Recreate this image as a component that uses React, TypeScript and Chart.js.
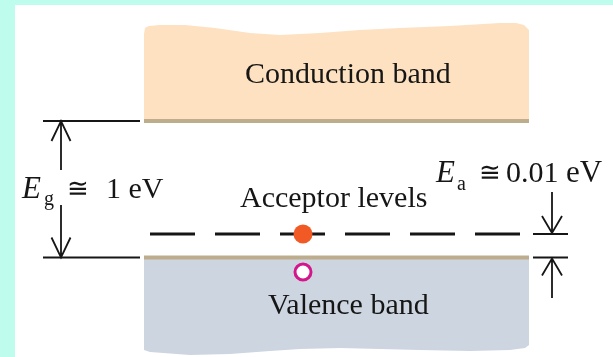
import React, { useEffect, useRef } from "react";
import { Chart, registerables } from "chart.js";

Chart.register(...registerables);

// ---- diagram data (x across the diagram, y = energy level position, axis reversed) ----
const bandEdgeX = [144, 529];
const conductionBandBottom = 121;
const valenceBandTop = 257.5;
const conductionTopX = [144, 145, 149, 160, 185, 215, 250, 280, 320, 360, 400, 450, 500, 516, 524, 529];
const conductionTopY = [34, 28, 26, 25, 25, 28, 33, 35, 33, 30, 28, 26, 23, 23, 25, 30];
const valenceBottomX = [144, 150, 190, 230, 270, 300, 340, 380, 420, 470, 510, 525, 529];
const valenceBottomY = [350, 352, 355, 354, 351, 349, 348, 349, 350, 351, 350, 348, 345];
const acceptorLevel = 234;
const acceptorSpan = [150, 520];
const electronX = [303];
const electronY = [234];
const holeX = [303];
const holeY = [272];
const gapRefLeft = [43, 140];
const gapRefRight = [533, 568];
const egArrowX = 61;
const egArrowFrom = [170, 205];
const egArrowTo = [121, 257.5];
const eaArrowX = 552;
const eaArrowFrom = [192, 298];
const eaArrowTo = [233, 258.5];

const bandLabels = ["Conduction band", "Acceptor levels", "Valence band"];
const egLabel = ["E", "g", "\u2245", "1 eV"];
const eaLabel = ["E", "a", "\u2245", "0.01", "eV"];

const SERIF = "'Liberation Serif', 'Times New Roman', 'DejaVu Serif', serif";
const INK = "#161616";

function pts(xs: number[], ys: number[]) {
  return xs.map((x, i) => ({ x, y: ys[i] }));
}

function arrowData(x: number, from: number, to: number, len: number, hw: number) {
  const dir = to > from ? 1 : -1;
  return [
    { x, y: from },
    { x, y: to },
    { x, y: null as any },
    { x: x - hw, y: to - dir * len },
    { x, y: to },
    { x: x + hw, y: to - dir * len },
  ];
}

const backgroundPlugin = {
  id: "bg",
  beforeDraw(chart: any) {
    const { ctx, width, height } = chart;
    ctx.save();
    ctx.fillStyle = "#BEFDEE";
    ctx.fillRect(0, 0, width, height);
    ctx.fillStyle = "#FFFFFF";
    ctx.fillRect(15, 5, width - 15, height - 5);
    ctx.restore();
  },
};

const textPlugin = {
  id: "texts",
  afterDatasetsDraw(chart: any) {
    const { ctx } = chart;
    const sx = chart.scales.x;
    const sy = chart.scales.y;
    const put = (t: string, x: number, y: number, size: number, italic = false, font = SERIF) => {
      ctx.font = `${italic ? "italic " : ""}${size}px ${font}`;
      ctx.fillText(t, sx.getPixelForValue(x), sy.getPixelForValue(y));
    };
    ctx.save();
    ctx.fillStyle = INK;
    ctx.textBaseline = "alphabetic";
    ctx.textAlign = "left";
    put(bandLabels[0], 245, 83, 30);
    put(bandLabels[1], 240, 207, 30);
    put(bandLabels[2], 268, 314, 30);
    // E_g ≅ 1 eV
    put(egLabel[0], 22, 198, 31, true);
    put(egLabel[1], 44, 205, 20);
    put(egLabel[2], 67, 197, 26);
    put(egLabel[3], 106, 198, 30);
    // E_a ≅ 0.01 eV
    put(eaLabel[0], 436, 182, 31, true);
    put(eaLabel[1], 457, 190, 20);
    put(eaLabel[2], 479, 181, 26);
    put(eaLabel[3], 506, 182, 30);
    put(eaLabel[4], 566, 182, 31);
    ctx.restore();
  },
};

export default function App() {
  const ref = useRef<HTMLCanvasElement>(null);

  useEffect(() => {
    const conductionPoly = [
      ...pts(conductionTopX, conductionTopY),
      { x: bandEdgeX[1], y: conductionBandBottom },
      { x: bandEdgeX[0], y: conductionBandBottom },
    ];
    const valencePoly = [
      { x: bandEdgeX[0], y: valenceBandTop },
      { x: bandEdgeX[1], y: valenceBandTop },
      ...pts(valenceBottomX, valenceBottomY).reverse(),
    ];
    const lineDs = (data: any[], color: string, width: number, order: number, extra: any = {}) => ({
      data,
      borderColor: color,
      borderWidth: width,
      pointRadius: 0,
      fill: false,
      tension: 0,
      spanGaps: false,
      order,
      borderCapStyle: "butt",
      ...extra,
    });

    const chart = new Chart(ref.current as HTMLCanvasElement, {
      type: "line",
      data: {
        datasets: [
          {
            data: conductionPoly,
            borderWidth: 0,
            borderColor: "rgba(0,0,0,0)",
            backgroundColor: "#FDE1C0",
            fill: "shape",
            pointRadius: 0,
            tension: 0,
            order: 20,
          } as any,
          {
            data: valencePoly,
            borderWidth: 0,
            borderColor: "rgba(0,0,0,0)",
            backgroundColor: "#CDD5E1",
            fill: "shape",
            pointRadius: 0,
            tension: 0,
            order: 20,
          } as any,
          lineDs(pts(bandEdgeX, [conductionBandBottom, conductionBandBottom]), "#BDAD8D", 4, 15),
          lineDs(pts(bandEdgeX, [valenceBandTop, valenceBandTop]), "#BDAD8D", 4, 15),
          lineDs(pts(gapRefLeft, [conductionBandBottom, conductionBandBottom]), INK, 2, 10),
          lineDs(pts(gapRefLeft, [valenceBandTop, valenceBandTop]), INK, 2, 10),
          lineDs(pts(gapRefRight, [acceptorLevel, acceptorLevel]), INK, 2, 10),
          lineDs(pts(gapRefRight, [valenceBandTop, valenceBandTop]), INK, 2, 10),
          lineDs(pts(acceptorSpan, [acceptorLevel, acceptorLevel]), INK, 3, 8, { borderDash: [45, 20] }),
          lineDs(arrowData(egArrowX, egArrowFrom[0], egArrowTo[0], 20, 9.5), INK, 1.8, 9),
          lineDs(arrowData(egArrowX, egArrowFrom[1], egArrowTo[1], 20, 9.5), INK, 1.8, 9),
          lineDs(arrowData(eaArrowX, eaArrowFrom[0], eaArrowTo[0], 17, 10), INK, 1.8, 9),
          lineDs(arrowData(eaArrowX, eaArrowFrom[1], eaArrowTo[1], 17, 10), INK, 1.8, 9),
          {
            data: pts(electronX, electronY),
            showLine: false,
            pointRadius: 9.5,
            pointBackgroundColor: "#F15A24",
            pointBorderWidth: 0,
            pointBorderColor: "#F15A24",
            order: 1,
          } as any,
          {
            data: pts(holeX, holeY),
            showLine: false,
            pointRadius: 8,
            pointBackgroundColor: "#FFFFFF",
            pointBorderWidth: 3,
            pointBorderColor: "#D4168C",
            order: 1,
          } as any,
        ],
      },
      options: {
        responsive: false,
        animation: false,
        devicePixelRatio: 1,
        layout: { padding: 0, autoPadding: false },
        events: [],
        scales: {
          x: { type: "linear", min: 0, max: 613, display: false },
          y: { type: "linear", min: 0, max: 357, reverse: true, display: false },
        },
        plugins: {
          legend: { display: false },
          tooltip: { enabled: false },
        },
      },
      plugins: [backgroundPlugin, textPlugin],
    } as any);
    return () => chart.destroy();
  }, []);

  return (
    <div style={{ position: "fixed", left: 0, top: 0, width: 613, height: 357 }}>
      <canvas ref={ref} width={613} height={357} style={{ display: "block" }} />
    </div>
  );
}
